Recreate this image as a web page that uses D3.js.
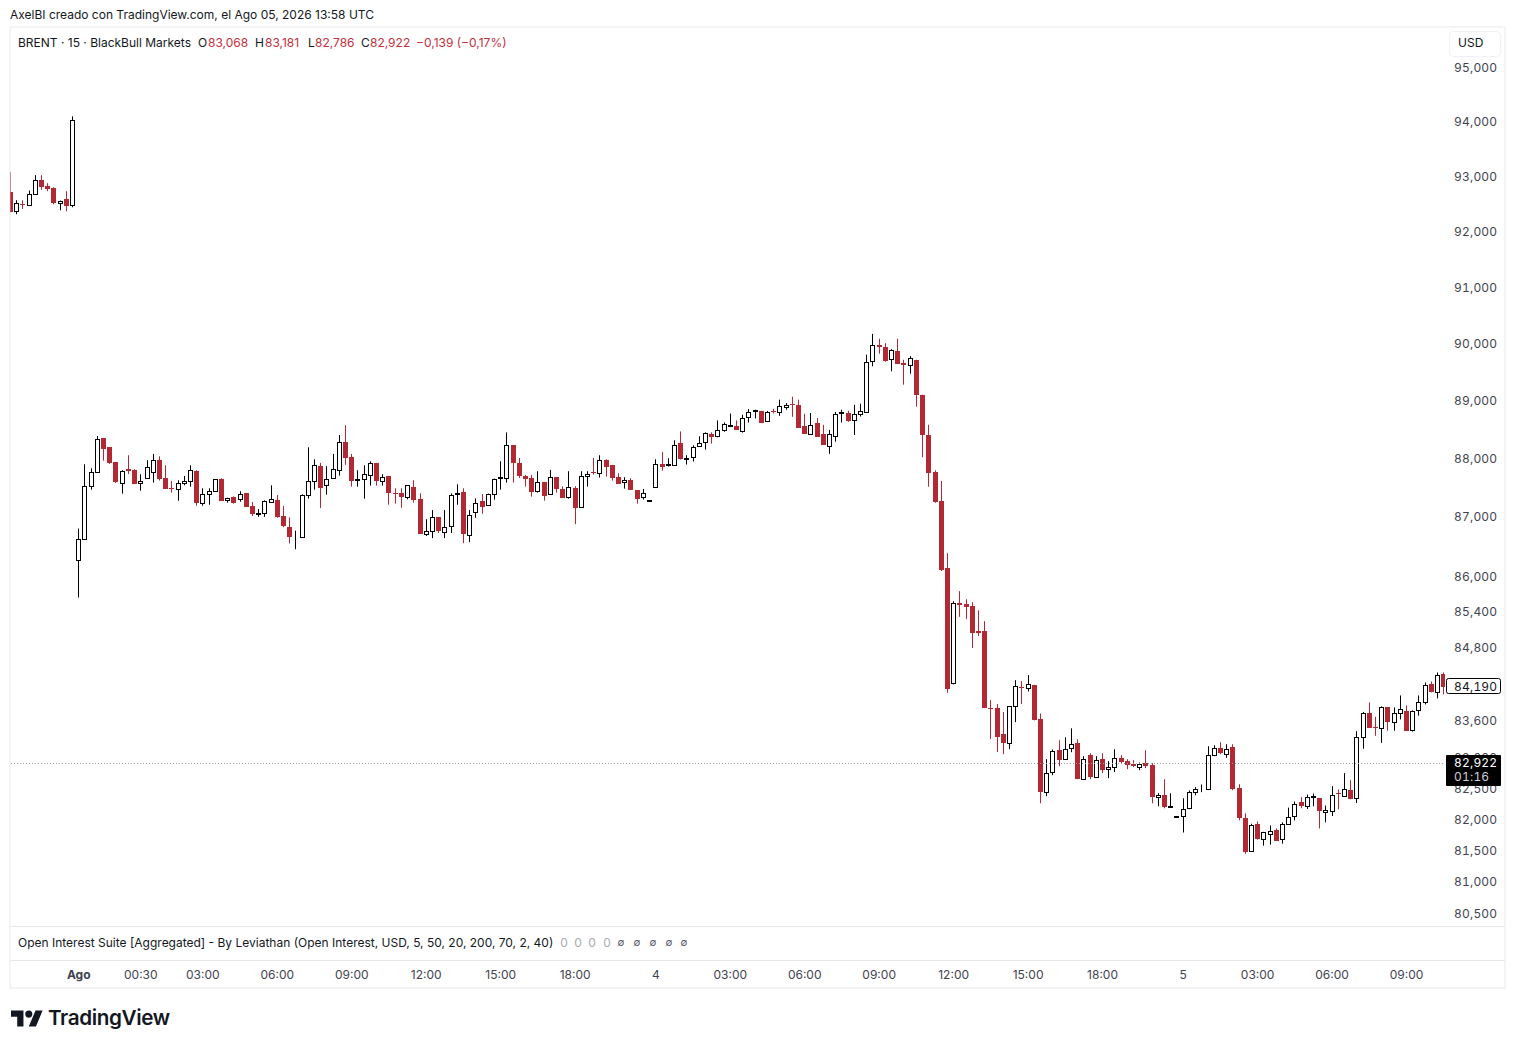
<!DOCTYPE html>
<html>
<head>
<meta charset="utf-8">
<title>BRENT</title>
<script src="https://cdn.jsdelivr.net/npm/d3@7"></script>
<style>
html, body { margin: 0; padding: 0; background: #fff; overflow: hidden; }
svg { display: block; }
text { font-family: Inter, "Noto Sans", sans-serif; font-size: 12px; fill: #131722; }
.price-tick, .price-tag { font-size: 12px; letter-spacing: 0.2px; font-variant-numeric: tabular-nums; }
.price-tick { fill: #3f4350; }
.time-tick { fill: #3f4350; text-anchor: middle; }
</style>
</head>
<body>
<svg id="chart" width="1515" height="1048"></svg>
<script>
'use strict';

var opens = [
    92700, 92367, 92494, 92476, 92676, 92913, 92810, 92772, 92505, 92572,
    92476, 86259, 86620, 87514, 87754, 88339, 88184, 87926, 87565, 87806,
    87789, 87565, 87651, 87754, 87961, 87651, 87485, 87462, 87565, 87600,
    87772, 87221, 87376, 87428, 87634, 87273, 87325, 87290, 87393, 87170,
    87032, 87050, 87239, 87273, 86998, 86826, 86643, 86648, 87370, 87611,
    87863, 87531, 87651, 87789, 88276, 88018, 87623, 87646, 87703, 87915,
    87600, 87691, 87399, 87393, 87325, 87502, 87290, 86706, 86757, 86981,
    86740, 86843, 87376, 87416, 86689, 87067, 87256, 87198, 87376, 87663,
    87651, 88224, 87915, 87691, 87652, 87440, 87589, 87376, 87669, 87468,
    87325, 87485, 87153, 87697, 87760, 87737, 87967, 87881, 87674, 87583,
    87623, 87451, 87325, 87268, 87497, 87898, 87886, 87875, 88253, 87978,
    88013, 88202, 88270, 88408, 88374, 88488, 88557, 88545, 88473, 88707,
    88812, 88817, 88637, 88806, 88794, 88881, 88940, 88922, 88555, 88421,
    88607, 88415, 88211, 88386, 88782, 88782, 88648, 88753, 88794, 89680,
    89972, 89931, 89721, 89867, 89657, 89616, 89709, 89097, 88400, 87759,
    87260, 86120, 84200, 85533, 85517, 85483, 85067, 85067, 83795, 83795,
    83369, 83227, 83832, 84140, 84128, 84176, 83609, 82432, 82756, 83107,
    82967, 83145, 83220, 82643, 83026, 82675, 82961, 82805, 82837, 82977,
    82929, 82880, 82837, 82896, 82864, 82351, 82378, 82189, 82027, 82043,
    82173, 82432, 82491, 82481, 83026, 83139, 83048, 83156, 82491, 82005,
    81476, 81908, 81671, 81752, 81811, 81671, 81914, 82043, 82264, 82205,
    82351, 82329, 82108, 82124, 82411, 82367, 82459, 82325, 83315, 83708,
    83483, 83462, 83806, 83560, 83708, 83741, 83429, 83757, 83888, 84184,
    84052, 84364
];

var highs = [
    93064, 92554, 92554, 92730, 93010, 93010, 92864, 92790, 92549, 92718,
    94086, 86792, 87892, 87823, 88379, 88339, 88184, 87926, 87789, 88047,
    87806, 87720, 87961, 88070, 88029, 87875, 87605, 87617, 87691, 87875,
    87789, 87479, 87479, 87634, 87651, 87319, 87342, 87428, 87393, 87244,
    87124, 87273, 87531, 87365, 87176, 86981, 86757, 87376, 88184, 87978,
    87915, 87858, 88070, 88396, 88568, 88070, 87789, 87875, 87943, 87915,
    87720, 87691, 87479, 87479, 87531, 87617, 87393, 86952, 87107, 86981,
    87107, 87393, 87548, 87479, 87107, 87307, 87382, 87388, 87646, 87943,
    88442, 88224, 88001, 87709, 87709, 87772, 87589, 87795, 87669, 87514,
    87772, 87514, 87772, 87772, 88001, 88047, 87978, 87881, 87738, 87669,
    87652, 87451, 87468, 87279, 87978, 88104, 87995, 88305, 88459, 88047,
    88219, 88374, 88442, 88442, 88649, 88614, 88769, 88649, 88747, 88846,
    88835, 88817, 88812, 88852, 89010, 88951, 89062, 89010, 88765, 88777,
    88689, 88572, 88485, 88794, 88835, 88817, 88922, 88940, 89797, 90164,
    90077, 90001, 89896, 90077, 89709, 89773, 89709, 89097, 88574, 87788,
    87604, 86376, 85567, 85735, 85600, 85550, 85415, 85233, 83927, 83861,
    83730, 83822, 84254, 84238, 84338, 84176, 83706, 82961, 83118, 83269,
    83318, 83463, 83285, 83010, 83058, 83010, 83058, 82929, 83123, 83026,
    82961, 82945, 82907, 83107, 82896, 82410, 82637, 82410, 82038, 82329,
    82454, 82508, 82551, 83172, 83188, 83237, 83204, 83204, 82556, 82086,
    81919, 81957, 81789, 81892, 81843, 81941, 82178, 82275, 82346, 82389,
    82405, 82329, 82211, 82524, 82470, 82735, 82621, 83418, 83733, 83888,
    83653, 83823, 83806, 83806, 84003, 83839, 83757, 84003, 84216, 84233,
    84381, 84381
];

var lows = [
    92336, 92300, 92396, 92450, 92676, 92742, 92718, 92481, 92372, 92354,
    92427, 85629, 86620, 87456, 87754, 87955, 87898, 87571, 87388, 87726,
    87560, 87439, 87651, 87577, 87611, 87474, 87405, 87267, 87531, 87508,
    87181, 87181, 87198, 87428, 87267, 87233, 87216, 87250, 87164, 87004,
    86992, 86992, 87239, 86975, 86815, 86540, 86442, 86648, 87302, 87456,
    87141, 87370, 87651, 87697, 87880, 87508, 87508, 87302, 87525, 87525,
    87525, 87198, 87216, 87147, 87290, 87233, 86700, 86666, 86631, 86717,
    86631, 86717, 87198, 86545, 86562, 86975, 87044, 87181, 87285, 87456,
    87577, 87577, 87657, 87508, 87336, 87405, 87268, 87376, 87405, 87319,
    87302, 86867, 87153, 87508, 87715, 87663, 87680, 87611, 87560, 87474,
    87457, 87216, 87285, 87268, 87497, 87783, 87852, 87875, 87972, 87886,
    87938, 88202, 88144, 88247, 88356, 88454, 88557, 88488, 88438, 88613,
    88683, 88613, 88637, 88771, 88730, 88835, 88712, 88526, 88421, 88421,
    88368, 88228, 88071, 88281, 88613, 88625, 88398, 88718, 88794, 89593,
    89814, 89674, 89505, 89639, 89272, 89464, 88887, 88013, 87506, 87231,
    86073, 84046, 84185, 85305, 85266, 84785, 84984, 83795, 83287, 83076,
    83043, 83124, 83565, 83861, 84068, 83593, 82248, 82362, 82702, 82848,
    82967, 83075, 82637, 82643, 82637, 82659, 82734, 82653, 82751, 82896,
    82799, 82832, 82783, 82815, 82248, 82200, 82167, 82189, 82027, 81779,
    82151, 82378, 82427, 82481, 83010, 83042, 82983, 82459, 81973, 81438,
    81476, 81665, 81568, 81584, 81649, 81600, 81914, 81973, 82167, 82157,
    82200, 81843, 81941, 82043, 82151, 82367, 82313, 82254, 83130, 83473,
    83341, 83226, 83423, 83423, 83609, 83423, 83412, 83670, 83855, 84052,
    83954, 84020
];

var closes = [
    92336, 92512, 92485, 92676, 92913, 92796, 92755, 92500, 92536, 92445,
    94013, 86620, 87514, 87754, 88322, 88161, 87909, 87588, 87772, 87783,
    87560, 87611, 87840, 87961, 87646, 87474, 87474, 87577, 87600, 87789,
    87233, 87388, 87428, 87634, 87267, 87319, 87233, 87388, 87164, 87044,
    87061, 87256, 87290, 86992, 86832, 86648, 86654, 87359, 87600, 87875,
    87491, 87634, 87806, 88270, 88006, 87611, 87634, 87720, 87909, 87611,
    87668, 87405, 87388, 87336, 87531, 87284, 86700, 86752, 86992, 86752,
    86820, 87370, 87405, 86700, 87027, 87233, 87164, 87388, 87646, 87674,
    88218, 87920, 87691, 87646, 87422, 87583, 87354, 87669, 87474, 87319,
    87497, 87147, 87686, 87726, 87743, 87961, 87852, 87663, 87560, 87617,
    87457, 87302, 87394, 87279, 87892, 87852, 87898, 88230, 87990, 88007,
    88184, 88265, 88425, 88368, 88488, 88580, 88568, 88488, 88689, 88794,
    88824, 88613, 88794, 88794, 88899, 88916, 88928, 88526, 88421, 88578,
    88368, 88228, 88409, 88759, 88794, 88642, 88759, 88811, 89668, 89966,
    89925, 89692, 89878, 89639, 89610, 89738, 89085, 88400, 87747, 87243,
    86085, 84107, 85545, 85500, 85466, 85034, 85034, 83795, 83779, 83320,
    83222, 83822, 84151, 84123, 84189, 83593, 82427, 82729, 83102, 82945,
    83134, 83215, 82637, 82972, 82670, 82940, 82783, 82842, 82988, 82913,
    82864, 82848, 82875, 82848, 82346, 82378, 82184, 82200, 82038, 82162,
    82437, 82486, 82502, 83037, 83150, 83058, 83134, 82475, 82005, 81471,
    81903, 81681, 81789, 81805, 81649, 81919, 82032, 82243, 82200, 82356,
    82362, 82119, 82146, 82389, 82400, 82470, 82313, 83325, 83707, 83473,
    83473, 83806, 83566, 83708, 83773, 83423, 83741, 83888, 84167, 84052,
    84342, 84145
];

var priceTicks = [95000, 94000, 93000, 92000, 91000, 90000, 89000, 88000, 87000, 86000,
    85400, 84800, 83600, 83000, 82500, 82000, 81500, 81000, 80500];

var timeTickBars = [11, 21, 31, 43, 55, 67, 79, 91, 104, 116, 128, 140, 152, 164, 176, 189, 201, 213, 225];
var timeTickLabels = ['Ago', '00:30', '03:00', '06:00', '09:00', '12:00', '15:00', '18:00', '4',
    '03:00', '06:00', '09:00', '12:00', '15:00', '18:00', '5', '03:00', '06:00', '09:00'];

var lastPriceLevel = 82900;
var markedPriceLevel = 84160;

var legendParts = [
    { x: 18, text: 'BRENT · 15 · BlackBull Markets', red: false },
    { x: 198, text: 'O', red: false },
    { x: 208, text: '83,068', red: true },
    { x: 255, text: 'H', red: false },
    { x: 265, text: '83,181', red: true },
    { x: 308, text: 'L', red: false },
    { x: 315, text: '82,786', red: true },
    { x: 361, text: 'C', red: false },
    { x: 370, text: '82,922', red: true },
    { x: 416, text: '−0,139 (−0,17%)', red: true }
];

var RED = '#b22833';
var LINE = '#e4e6ee';

function drawFrame(svg) {
    svg.append('rect')
        .attr('x', 10).attr('y', 27)
        .attr('width', 1495).attr('height', 961)
        .attr('fill', '#fff')
        .attr('stroke', '#f0f1f4')
        .attr('stroke-width', 1.5);

    [926.5, 960.5].forEach(function(y) {
        svg.append('line')
            .attr('x1', 11).attr('x2', 1505)
            .attr('y1', y).attr('y2', y)
            .attr('stroke', LINE);
    });
}

function drawCandles(svg, x, y) {
    svg.append('clipPath').attr('id', 'plot')
        .append('rect')
        .attr('x', 10.5).attr('y', 28)
        .attr('width', 1434.5).attr('height', 898);

    var bars = d3.range(opens.length).map(function(i) {
        return { i: i, o: opens[i], h: highs[i], l: lows[i], c: closes[i] };
    });

    var candles = svg.append('g')
        .attr('clip-path', 'url(#plot)')
        .selectAll('g.candle')
        .data(bars)
        .enter()
        .append('g')
        .attr('class', 'candle')
        .attr('transform', function(d) {
            return 'translate(' + (Math.floor(x(d.i)) + 0.5) + ',0)';
        });

    candles.append('line')
        .attr('y1', function(d) { return y(d.h); })
        .attr('y2', function(d) { return y(d.l); })
        .attr('stroke', function(d) { return d.c >= d.o ? '#000' : RED; })
        .attr('stroke-width', 1);

    candles.filter(function(d) { return d.c < d.o; })
        .append('rect')
        .attr('x', -2.5)
        .attr('width', 5)
        .attr('y', function(d) { return Math.round(y(d.o)); })
        .attr('height', function(d) { return Math.max(1, Math.round(y(d.c)) - Math.round(y(d.o))); })
        .attr('fill', RED);

    candles.filter(function(d) { return d.c >= d.o; })
        .append('rect')
        .attr('x', -2)
        .attr('width', 4)
        .attr('y', function(d) { return Math.round(y(d.c)) + 0.5; })
        .attr('height', function(d) { return Math.round(y(d.o)) - Math.round(y(d.c)); })
        .attr('fill', '#fff')
        .attr('stroke', '#000')
        .attr('stroke-width', 1);
}

function drawPriceAxis(svg, y) {
    svg.selectAll('text.price-tick')
        .data(priceTicks)
        .enter()
        .append('text')
        .attr('class', 'price-tick')
        .attr('x', 1454)
        .attr('y', function(d) { return y(d) + 0.8; })
        .attr('dy', '0.36em')
        .text(function(d) { return d3.format(',')(d); });

    svg.append('line')
        .attr('x1', 11).attr('x2', 1445)
        .attr('y1', Math.round(y(lastPriceLevel)) + 0.5)
        .attr('y2', Math.round(y(lastPriceLevel)) + 0.5)
        .attr('stroke', '#9a9a9a')
        .attr('stroke-width', 1)
        .attr('stroke-dasharray', '1 2');

    var marked = y(markedPriceLevel);
    svg.append('rect')
        .attr('x', 1446.5).attr('y', Math.round(marked) - 7.5)
        .attr('width', 54).attr('height', 15)
        .attr('rx', 2)
        .attr('fill', '#fff')
        .attr('stroke', '#000');
    svg.append('text')
        .attr('class', 'price-tag')
        .attr('x', 1454).attr('y', marked + 0.5)
        .attr('dy', '0.36em')
        .text('84,190');

    svg.append('rect')
        .attr('x', 1446).attr('y', 755)
        .attr('width', 55).attr('height', 31)
        .attr('rx', 1)
        .attr('fill', '#000');
    svg.append('text')
        .attr('class', 'price-tag')
        .attr('x', 1454).attr('y', 763)
        .attr('dy', '0.36em')
        .style('fill', '#fff')
        .text('82,922');
    svg.append('text')
        .attr('class', 'price-tag')
        .attr('x', 1454).attr('y', 777)
        .attr('dy', '0.36em')
        .style('fill', '#d0d0d0')
        .text('01:16');

    svg.append('rect')
        .attr('x', 1449.5).attr('y', 31.5)
        .attr('width', 51).attr('height', 25)
        .attr('rx', 4)
        .attr('fill', '#fff')
        .attr('stroke', '#f0f1f4');
    svg.append('text')
        .attr('x', 1458).attr('y', 43)
        .attr('dy', '0.36em')
        .text('USD');
}

function drawTimeAxis(svg, x) {
    svg.selectAll('text.time-tick')
        .data(timeTickBars)
        .enter()
        .append('text')
        .attr('class', 'time-tick')
        .attr('x', function(d) { return x(d); })
        .attr('y', 974.5)
        .attr('dy', '0.36em')
        .style('font-weight', function(d, i) { return i === 0 ? 700 : 400; })
        .text(function(d, i) { return timeTickLabels[i]; });
}

function drawLegends(svg) {
    svg.append('text')
        .attr('x', 10).attr('y', 15)
        .attr('dy', '0.36em')
        .text('AxelBI creado con TradingView.com, el Ago 05, 2026 13:58 UTC');

    svg.selectAll('text.legend')
        .data(legendParts)
        .enter()
        .append('text')
        .attr('class', 'legend')
        .attr('x', function(d) { return d.x; })
        .attr('y', 42.5)
        .attr('dy', '0.36em')
        .style('fill', function(d) { return d.red ? '#c2303c' : '#131722'; })
        .text(function(d) { return d.text; });

    svg.append('text')
        .attr('x', 18).attr('y', 942.5)
        .attr('dy', '0.36em')
        .text('Open Interest Suite [Aggregated] - By Leviathan (Open Interest, USD, 5, 50, 20, 200, 70, 2, 40)');

    [564, 578, 592, 607].forEach(function(px) {
        svg.append('text')
            .attr('x', px).attr('y', 942.5)
            .attr('dy', '0.36em')
            .attr('text-anchor', 'middle')
            .style('fill', '#a8abb3')
            .text('0');
    });

    [621, 637, 653, 669, 684].forEach(function(px) {
        svg.append('text')
            .attr('x', px).attr('y', 942.5)
            .attr('dy', '0.36em')
            .attr('text-anchor', 'middle')
            .style('fill', '#50535e')
            .style('font-size', '10px')
            .text('∅');
    });
}

function drawLogo(svg) {
    var logo = svg.append('g').attr('transform', 'translate(11,1007) scale(0.89)');
    logo.append('path')
        .attr('d', 'M14 22H7V11H0V4h14v18zM28 22h-8l7.5-18h8L28 22z')
        .attr('fill', '#131722');
    logo.append('circle')
        .attr('cx', 20).attr('cy', 8).attr('r', 4)
        .attr('fill', '#131722');

    svg.append('text')
        .attr('x', 48).attr('y', 1018)
        .attr('dy', '0.36em')
        .style('font-size', '20.7px')
        .style('font-weight', 600)
        .style('letter-spacing', '-0.4px')
        .text('TradingView');
}

(function() {
    var svg = d3.select('#chart');

    var x = d3.scaleLinear().domain([0, 231]).range([10.5, 1443.8]);
    var y = d3.scaleLog().domain([80500, 95000]).range([913, 67]);

    drawFrame(svg);
    drawCandles(svg, x, y);
    drawPriceAxis(svg, y);
    drawTimeAxis(svg, x);
    drawLegends(svg);
    drawLogo(svg);
})();
</script>
</body>
</html>
